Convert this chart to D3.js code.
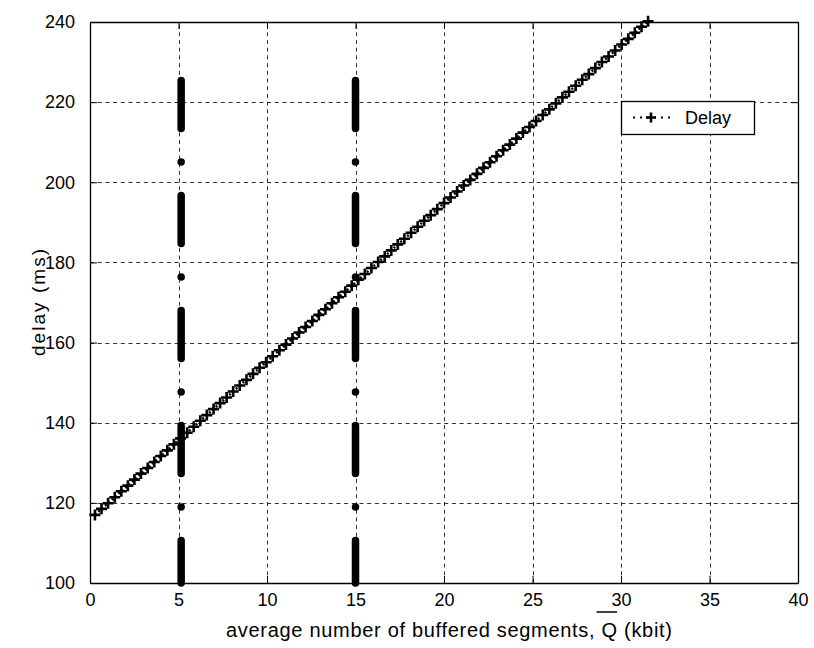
<!DOCTYPE html>
<html>
<head>
<meta charset="utf-8">
<script src="https://cdn.jsdelivr.net/npm/d3@7"></script>
<style>
  html, body { margin: 0; padding: 0; background: #fff; }
  svg { display: block; }
  text { font-family: "Liberation Sans", Arial, sans-serif; fill: #000; }
</style>
</head>
<body>
<svg id="chart" width="814" height="648"></svg>
<script>
// ---- data ----
const xTicks = [0, 5, 10, 15, 20, 25, 30, 35, 40];
const yTicks = [100, 120, 140, 160, 180, 200, 220, 240];

const delayQ = [0.28, 0.65, 1.02, 1.40, 1.77, 2.14, 2.51, 2.88, 3.26, 3.63, 4.00, 4.37, 4.74, 5.12, 5.49, 5.86, 6.23, 6.60, 6.98, 7.35,
  7.72, 8.09, 8.46, 8.84, 9.21, 9.58, 9.95, 10.32, 10.70, 11.07, 11.44, 11.81, 12.18, 12.56, 12.93, 13.30, 13.67, 14.04, 14.42, 14.79,
  15.16, 15.53, 15.90, 16.28, 16.65, 17.02, 17.39, 17.76, 18.14, 18.51, 18.88, 19.25, 19.62, 20.00, 20.37, 20.74, 21.11, 21.48, 21.86, 22.23,
  22.60, 22.97, 23.34, 23.72, 24.09, 24.46, 24.83, 25.20, 25.58, 25.95, 26.32, 26.69, 27.06, 27.44, 27.81, 28.18, 28.55, 28.92, 29.30, 29.67,
  30.04, 30.41, 30.78, 31.16, 31.53];
const delayMs = [117.0, 118.5, 119.9, 121.4, 122.9, 124.3, 125.8, 127.3, 128.7, 130.2, 131.7, 133.1, 134.6, 136.1, 137.5, 139.0, 140.5, 141.9, 143.4, 144.9,
  146.3, 147.8, 149.3, 150.7, 152.2, 153.7, 155.1, 156.6, 158.1, 159.5, 161.0, 162.5, 163.9, 165.4, 166.9, 168.3, 169.8, 171.3, 172.7, 174.2,
  175.7, 177.1, 178.6, 180.1, 181.5, 183.0, 184.5, 185.9, 187.4, 188.9, 190.4, 191.8, 193.3, 194.8, 196.2, 197.7, 199.2, 200.6, 202.1, 203.6,
  205.0, 206.5, 208.0, 209.4, 210.9, 212.4, 213.8, 215.3, 216.8, 218.2, 219.7, 221.2, 222.6, 224.1, 225.6, 227.0, 228.5, 230.0, 231.4, 232.9,
  234.4, 235.8, 237.3, 238.8, 240.2];

// vertical dash-dot reference lines
const refX = [5.15, 15];
const refTop = 225.4;
const refBottom = 100;

const legendLabel = "Delay";
const xLabel = "average number of buffered segments, Q (kbit)";
const yLabel = "delay (ms)";

// ---- layout ----
const L = 90, R = 798, T = 22, B = 583;
const svg = d3.select("#chart");
const x = d3.scaleLinear().domain([0, 40]).range([L, R]);
const y = d3.scaleLinear().domain([100, 240]).range([B, T]);

svg.append("rect").attr("width", 814).attr("height", 648).attr("fill", "#fff");

// grid
const grid = svg.append("g").attr("stroke", "#333").attr("stroke-width", 1).attr("stroke-dasharray", "4,3.7");
grid.selectAll(".gx").data(xTicks.slice(1, -1)).join("line")
  .attr("x1", d => Math.round(x(d)) + 0.5).attr("x2", d => Math.round(x(d)) + 0.5)
  .attr("y1", B).attr("y2", T);
grid.selectAll(".gy").data(yTicks.slice(1, -1)).join("line")
  .attr("y1", d => Math.round(y(d)) + 0.5).attr("y2", d => Math.round(y(d)) + 0.5)
  .attr("x1", L).attr("x2", R);

// axes (ticks inward on all four sides)
const fs = 18;
const axB = svg.append("g").attr("transform", `translate(0,${B})`)
  .call(d3.axisBottom(x).tickValues(xTicks).tickSizeInner(-7).tickSizeOuter(0).tickPadding(10).tickFormat(d3.format("d")));
const axT = svg.append("g").attr("transform", `translate(0,${T})`)
  .call(d3.axisTop(x).tickValues(xTicks).tickSizeInner(-7).tickSizeOuter(0).tickFormat(""));
const axL = svg.append("g").attr("transform", `translate(${L},0)`)
  .call(d3.axisLeft(y).tickValues(yTicks).tickSizeInner(-7).tickSizeOuter(0).tickPadding(15).tickFormat(d3.format("d")));
const axR = svg.append("g").attr("transform", `translate(${R},0)`)
  .call(d3.axisRight(y).tickValues(yTicks).tickSizeInner(-7).tickSizeOuter(0).tickFormat(""));
[axB, axT, axL, axR].forEach(a => {
  a.select(".domain").attr("stroke", "#000").attr("stroke-width", 1.3);
  a.selectAll(".tick line").attr("stroke", "#000");
  a.selectAll("text").attr("font-size", fs).attr("font-family", "Liberation Sans, Arial, sans-serif").attr("fill", "#000");
});

// dash-dot vertical lines
svg.append("g").selectAll("line").data(refX).join("line")
  .attr("x1", d => x(d)).attr("x2", d => x(d))
  .attr("y1", y(refTop)).attr("y2", y(refBottom))
  .attr("stroke", "#000").attr("stroke-width", 7.5).attr("stroke-linecap", "round")
  .attr("stroke-dasharray", "48,33.5,0,33.5");

// delay line (dotted) + markers
const pts = delayQ.map((q, i) => [q, delayMs[i]]);
svg.append("path").datum(pts)
  .attr("d", d3.line().x(d => x(d[0])).y(d => y(d[1])))
  .attr("fill", "none").attr("stroke", "#000").attr("stroke-width", 2.5).attr("stroke-dasharray", "2,2.5");
const plus = (cx, cy, s) => `M${cx - s},${cy}H${cx + s}M${cx},${cy - s}V${cy + s}`;
svg.append("path")
  .attr("d", pts.map(d => plus(x(d[0]), y(d[1]), 5.5)).join(""))
  .attr("fill", "none").attr("stroke", "#000").attr("stroke-width", 2.6);

// legend
const lg = svg.append("g");
lg.append("rect").attr("x", 621.5).attr("y", 101.5).attr("width", 133).attr("height", 33)
  .attr("fill", "#fff").attr("stroke", "#000").attr("stroke-width", 1.3);
lg.append("line").attr("x1", 633).attr("x2", 670).attr("y1", 117.5).attr("y2", 117.5)
  .attr("stroke", "#000").attr("stroke-width", 2.2).attr("stroke-dasharray", "2,5");
lg.append("path").attr("d", plus(651, 117.5, 5)).attr("stroke", "#000").attr("stroke-width", 2.6);
lg.append("text").attr("x", 685).attr("y", 124).attr("font-size", 18).text(legendLabel);

// axis labels
const xl = svg.append("text").attr("x", 226).attr("y", 637)
  .attr("font-size", 20).attr("textLength", 446).attr("lengthAdjust", "spacing").text(xLabel);
const qi = xLabel.indexOf("Q");
const ext = xl.node().getExtentOfChar(qi);
svg.append("line").attr("x1", ext.x - 5).attr("x2", ext.x + ext.width)
  .attr("y1", 612).attr("y2", 612).attr("stroke", "#000").attr("stroke-width", 1.5);

svg.append("text").attr("transform", `translate(45,${(T + B) / 2}) rotate(-90)`)
  .attr("text-anchor", "middle").attr("font-size", 19).attr("textLength", 107).attr("lengthAdjust", "spacing").text(yLabel);
</script>
</body>
</html>
